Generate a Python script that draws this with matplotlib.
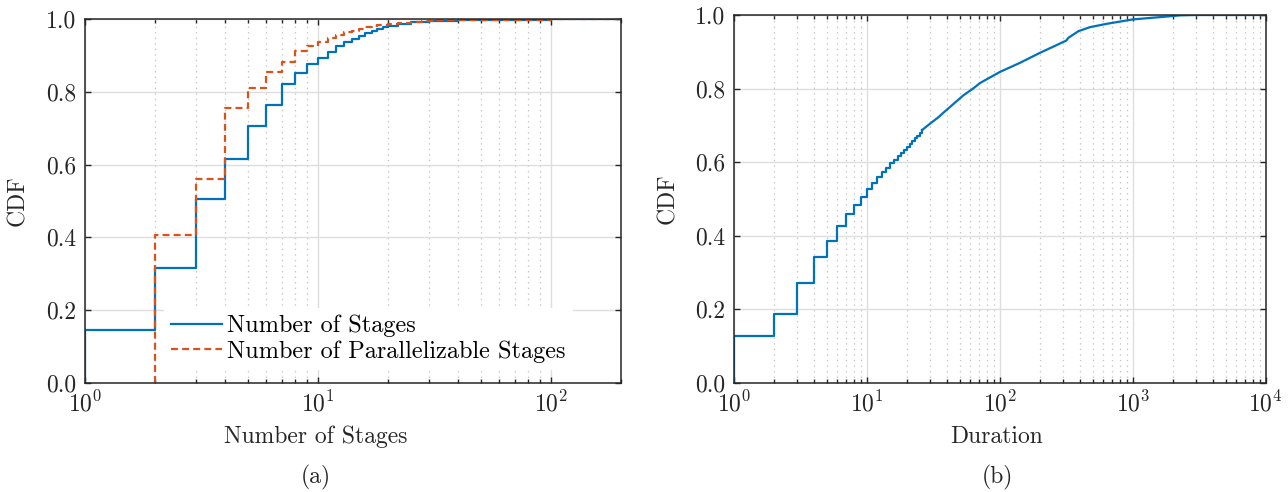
import matplotlib
matplotlib.use("Agg")
import matplotlib.pyplot as plt
from matplotlib.ticker import FormatStrFormatter, LogLocator, NullFormatter

plt.rcParams['font.family'] = 'serif'
plt.rcParams['font.serif'] = ['cmr10', 'DejaVu Serif']
plt.rcParams['mathtext.fontset'] = 'cm'
plt.rcParams['axes.formatter.use_mathtext'] = True
plt.rcParams['lines.scale_dashes'] = False

# ---- Data: panel (a) ----
stages_x = [1, 1, 2, 3, 4, 5, 6, 7, 8, 9, 10, 11, 12, 13, 14, 15, 16, 17, 18, 19, 20,
            22, 25, 30, 40, 60, 100, 200]
stages_cdf = [0.0, 0.145, 0.315, 0.506, 0.617, 0.706, 0.763, 0.821, 0.851, 0.876, 0.894,
              0.911, 0.926, 0.937, 0.946, 0.954, 0.961, 0.969, 0.973, 0.978, 0.981,
              0.986, 0.992, 0.996, 0.998, 0.999, 1.0, 1.0]
par_x = [2, 2, 3, 4, 5, 6, 7, 8, 9, 10, 11, 12, 13, 14, 15, 16, 17, 18, 20,
         22, 25, 28, 32, 40, 60, 100, 200]
par_cdf = [0.0, 0.406, 0.560, 0.756, 0.811, 0.856, 0.883, 0.912, 0.927, 0.938, 0.949,
           0.957, 0.964, 0.968, 0.973, 0.978, 0.981, 0.984, 0.987,
           0.991, 0.993, 0.995, 0.997, 0.998, 0.999, 1.0, 1.0]

# ---- Data: panel (b) ----
dur_step_x = [1, 1, 2, 3, 4, 5, 6, 7, 8, 9, 10, 11, 12, 13, 14, 15, 16, 17, 18, 19, 20,
              21, 22, 23, 24, 25, 26]
dur_step_cdf = [0.0, 0.127, 0.187, 0.272, 0.342, 0.386, 0.426, 0.458, 0.483, 0.506, 0.526,
                0.544, 0.558, 0.572, 0.585, 0.596, 0.605, 0.616, 0.625, 0.633, 0.642,
                0.649, 0.657, 0.664, 0.672, 0.680, 0.687]
dur_tail_x = [26, 30, 34, 38.7, 53, 63, 71, 100, 142, 200, 253, 301, 315, 328, 390, 477,
              637, 1000, 1700, 2270, 3000, 10000]
dur_tail_cdf = [0.687, 0.705, 0.720, 0.738, 0.781, 0.800, 0.815, 0.845, 0.870, 0.897,
                0.914, 0.927, 0.930, 0.938, 0.956, 0.967, 0.976, 0.988, 0.995, 0.999,
                1.0, 1.0]

yticks = [0.0, 0.2, 0.4, 0.6, 0.8, 1.0]

BLUE = '#0072BD'
ORANGE = '#D95319'
AXC = '#262626'

fig = plt.figure(figsize=(12.88, 4.92), dpi=100)
ax1 = fig.add_axes([85/1288, 1-382.8/492, 536/1288, 363.5/492])
ax2 = fig.add_axes([734/1288, 1-382.5/492, 531.7/1288, 367.5/492])

FS = 17

def style(ax, xmax):
    ax.set_xscale('log')
    ax.set_xlim(1, xmax)
    ax.set_ylim(0, 1)
    ax.set_yticks(yticks)
    ax.yaxis.set_major_formatter(FormatStrFormatter('%.1f'))
    ax.xaxis.set_major_locator(LogLocator(base=10, numticks=20))
    ax.xaxis.set_minor_locator(LogLocator(base=10, subs=range(2, 10), numticks=50))
    ax.xaxis.set_minor_formatter(NullFormatter())
    ax.grid(True, which='major', color='#dedede', linewidth=1.0, linestyle='-')
    ax.grid(True, which='minor', axis='x', color='#c4c4c4', linewidth=0.9, linestyle=(0, (1, 3)))
    ax.set_axisbelow(True)
    ax.tick_params(which='both', direction='in', top=True, right=True, color=AXC,
                   labelsize=FS, labelcolor=AXC, width=1.0)
    ax.tick_params(which='major', length=4, pad=6)
    ax.tick_params(which='minor', length=3)
    for s in ax.spines.values():
        s.set_color(AXC)
        s.set_linewidth(1.1)
    ax.set_ylabel('CDF', fontsize=FS, color=AXC)

style(ax1, 200)
ax1.plot(stages_x, stages_cdf, drawstyle='steps-post', color=BLUE, lw=1.6,
         label='Number of Stages')
ax1.plot(par_x, par_cdf, drawstyle='steps-post', color=ORANGE, lw=1.6,
         linestyle=(0, (5, 3)), label='Number of Parallelizable Stages')
ax1.set_xlabel('Number of Stages', fontsize=FS, color=AXC)
leg = ax1.legend(loc='lower right', bbox_to_anchor=(0.91, 0.035), fontsize=17.5,
                 frameon=True, fancybox=False, framealpha=1.0, edgecolor='white',
                 handlelength=2.1, handletextpad=0.2, borderaxespad=0, labelspacing=0.12,
                 borderpad=0.3)
leg.get_frame().set_linewidth(0)

style(ax2, 10000)
ax2.plot(dur_step_x, dur_step_cdf, drawstyle='steps-post', color=BLUE, lw=1.6)
ax2.plot(dur_tail_x, dur_tail_cdf, color=BLUE, lw=1.6)
ax2.set_xlabel('Duration', fontsize=FS, color=AXC)

# label positions (axes coords)
ax1.xaxis.set_label_coords((316-85)/536, -(437-382.8)/363.5)
ax2.xaxis.set_label_coords((997-734)/531.7, -(437-382.5)/367.5)
ax1.xaxis.label.set_va('center')
ax2.xaxis.label.set_va('center')
ax1.yaxis.set_label_coords(-(85-18)/536, 0.5)
ax2.yaxis.set_label_coords(-(734-668)/531.7, 0.5)
ax1.yaxis.label.set_va('center')
ax2.yaxis.label.set_va('center')

fig.text(316/1288, 1-477/492, '(a)', ha='center', va='center', fontsize=FS, color=AXC)
fig.text(997/1288, 1-477/492, '(b)', ha='center', va='center', fontsize=FS, color=AXC)

fig.savefig('out.png', dpi=100)
